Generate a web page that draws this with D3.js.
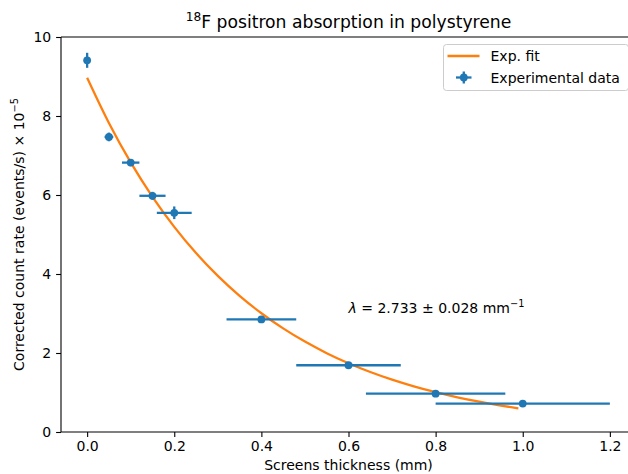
<!DOCTYPE html>
<html>
<head>
<meta charset="utf-8">
<script src="https://cdn.jsdelivr.net/npm/d3@7"></script>
<style>
  html, body { margin: 0; padding: 0; background: #fff; }
  svg { display: block; font-family: "DejaVu Sans", sans-serif; }
</style>
</head>
<body>
<svg id="chart" width="628" height="474"></svg>
<script>
// ---- Data ----
const thickness = [0.0, 0.05, 0.10, 0.15, 0.20, 0.40, 0.60, 0.80, 1.00];        // mm
const countRate = [9.41, 7.47, 6.82, 5.98, 5.55, 2.85, 1.69, 0.97, 0.72];      // x 1e-5
const rateErr   = [0.19, 0.11, 0.09, 0.10, 0.16, 0.07, 0.04, 0.04, 0.03];
const thickErr  = [0.00, 0.01, 0.02, 0.03, 0.04, 0.08, 0.12, 0.16, 0.20];

// Fitted curve
const fitX = [0.00, 0.05, 0.10, 0.15, 0.20, 0.25, 0.30, 0.35, 0.40, 0.45, 0.50,
              0.55, 0.60, 0.65, 0.70, 0.75, 0.80, 0.85, 0.90, 0.95, 0.99];
const fitY = [8.97, 7.825, 6.825, 5.954, 5.193, 4.530, 3.952, 3.447, 3.007, 2.623, 2.288,
              1.996, 1.741, 1.519, 1.325, 1.156, 1.008, 0.879, 0.767, 0.669, 0.599];

const xTicks = [0.0, 0.2, 0.4, 0.6, 0.8, 1.0, 1.2];
const yTicks = [0, 2, 4, 6, 8, 10];

const titleMain = "F positron absorption in polystyrene";
const titleSup = "18";
const xLabel = "Screens thickness (mm)";
const yLabelMain = "Corrected count rate (events/s) × 10";
const yLabelSup = "−5";
const legendLabels = ["Exp. fit", "Experimental data"];

// ---- Layout ----
const blue = "#1f77b4", orange = "#ff7f0e";
const L = 61, R = 636, T = 37, B = 432;
const LW = 2.3;
const svg = d3.select("#chart");
const x = d3.scaleLinear().domain([-0.06, 1.26]).range([L, R]);
const y = d3.scaleLinear().domain([0, 10]).range([B, T]);

// Axes
const fmtX = d3.format(".1f");
svg.append("g").attr("transform", `translate(0,${B})`)
  .call(d3.axisBottom(x).tickValues(xTicks).tickFormat(fmtX).tickSize(4.9).tickPadding(4))
  .call(g => g.select(".domain").remove())
  .call(g => g.selectAll("line").attr("stroke", "#000").attr("stroke-width", 1.1))
  .call(g => g.selectAll("text").attr("font-size", "14px").attr("fill", "#000")
        .attr("font-family", "DejaVu Sans"));

svg.append("g").attr("transform", `translate(${L},0)`)
  .call(d3.axisLeft(y).tickValues(yTicks).tickFormat(d3.format("d")).tickSize(4.9).tickPadding(4.9))
  .call(g => g.select(".domain").remove())
  .call(g => g.selectAll("line").attr("stroke", "#000").attr("stroke-width", 1.1))
  .call(g => g.selectAll("text").attr("font-size", "14px").attr("fill", "#000")
        .attr("font-family", "DejaVu Sans"));

// Fit line
const line = d3.line().x((d, i) => x(fitX[i])).y(d => y(d)).curve(d3.curveMonotoneX);
svg.append("path").datum(fitY).attr("d", line)
  .attr("fill", "none").attr("stroke", orange).attr("stroke-width", LW);

// Error bars
const pts = thickness.map((t, i) => ({t, r: countRate[i], ex: thickErr[i], ey: rateErr[i]}));
const eb = svg.append("g");
eb.selectAll(".xe").data(pts.filter(d => d.ex > 0)).join("line")
  .attr("x1", d => x(d.t - d.ex)).attr("x2", d => x(d.t + d.ex))
  .attr("y1", d => y(d.r)).attr("y2", d => y(d.r))
  .attr("stroke", blue).attr("stroke-width", LW);
eb.selectAll(".ye").data(pts).join("line")
  .attr("x1", d => x(d.t)).attr("x2", d => x(d.t))
  .attr("y1", d => y(d.r - d.ey)).attr("y2", d => y(d.r + d.ey))
  .attr("stroke", blue).attr("stroke-width", LW);
eb.selectAll("circle").data(pts).join("circle")
  .attr("cx", d => x(d.t)).attr("cy", d => y(d.r)).attr("r", 3.9)
  .attr("fill", blue);

// Spines
[[L, L, T, B], [L, R, B, B], [L, R, T, T], [R, R, T, B]].forEach(([x1, x2, y1, y2]) =>
  svg.append("line").attr("x1", x1).attr("x2", x2).attr("y1", y1).attr("y2", y2)
    .attr("stroke", "#000").attr("stroke-width", 1.1));

// Annotation
const ann = svg.append("text").attr("x", x(0.6)).attr("y", y(3.0) - 1)
  .attr("font-size", "14px").attr("fill", "#000");
ann.append("tspan").attr("font-style", "italic").text("λ");
ann.append("tspan").text(" = 2.733 ± 0.028 mm");
ann.append("tspan").attr("dy", -6).attr("font-size", "9.8px").text("−1");

// Title
const title = svg.append("text").attr("x", (L + R) / 2).attr("y", 28)
  .attr("text-anchor", "middle").attr("font-size", "17.2px").attr("fill", "#000");
title.append("tspan").attr("dy", -7).attr("font-size", "12.2px").text(titleSup);
title.append("tspan").attr("dy", 7).text(titleMain);

// X label
svg.append("text").attr("x", (L + R) / 2).attr("y", 470)
  .attr("text-anchor", "middle").attr("font-size", "14px").attr("fill", "#000")
  .text(xLabel);

// Y label
const yl = svg.append("text")
  .attr("transform", `translate(24,${(T + B) / 2}) rotate(-90)`)
  .attr("text-anchor", "middle").attr("font-size", "14px").attr("fill", "#000");
yl.append("tspan").text(yLabelMain);
yl.append("tspan").attr("dy", -6).attr("font-size", "9.8px").text(yLabelSup);

// Legend
const lg = svg.append("g");
lg.append("rect").attr("x", 443.5).attr("y", 44.5).attr("width", 185).attr("height", 46)
  .attr("rx", 3).attr("fill", "#fff").attr("fill-opacity", 0.8)
  .attr("stroke", "#cccccc").attr("stroke-width", 1);
lg.append("line").attr("x1", 447.5).attr("x2", 479.5).attr("y1", 56).attr("y2", 56)
  .attr("stroke", orange).attr("stroke-width", LW);
lg.append("line").attr("x1", 456).attr("x2", 471.5).attr("y1", 77.5).attr("y2", 77.5)
  .attr("stroke", blue).attr("stroke-width", LW);
lg.append("line").attr("x1", 463.8).attr("x2", 463.8).attr("y1", 71.5).attr("y2", 83.5)
  .attr("stroke", blue).attr("stroke-width", LW);
lg.append("circle").attr("cx", 463.8).attr("cy", 77.5).attr("r", 3.9).attr("fill", blue);
lg.selectAll("text.lab").data(legendLabels).join("text")
  .attr("x", 490.5).attr("y", (d, i) => 61 + i * 21.5)
  .attr("font-size", "14px").attr("fill", "#000").text(d => d);
</script>
</body>
</html>
